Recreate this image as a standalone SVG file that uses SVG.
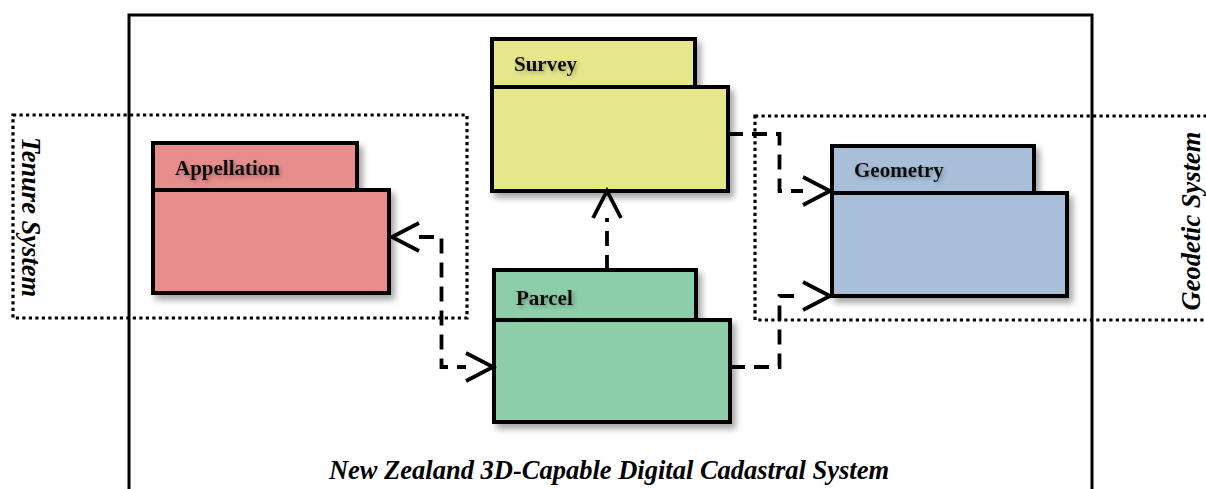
<svg xmlns="http://www.w3.org/2000/svg" width="1206" height="489" viewBox="0 0 1206 489">
  <defs>
    <filter id="shadow" x="-10%" y="-10%" width="130%" height="140%">
      <feGaussianBlur in="SourceAlpha" stdDeviation="3"/>
      <feOffset dx="4" dy="5" result="off"/>
      <feComponentTransfer><feFuncA type="linear" slope="0.35"/></feComponentTransfer>
      <feMerge><feMergeNode/><feMergeNode in="SourceGraphic"/></feMerge>
    </filter>
    <filter id="textsoft" x="-10%" y="-30%" width="130%" height="180%">
      <feGaussianBlur in="SourceAlpha" stdDeviation="2"/>
      <feOffset dx="2" dy="2"/>
      <feComponentTransfer><feFuncA type="linear" slope="0.3"/></feComponentTransfer>
      <feMerge><feMergeNode/><feMergeNode in="SourceGraphic"/></feMerge>
    </filter>
    <marker id="open" markerUnits="userSpaceOnUse" markerWidth="40" markerHeight="40" refX="0" refY="0" viewBox="-5 -20 40 40" orient="auto-start-reverse" overflow="visible">
      <path d="M0 -14 L27 0 L0 14" fill="none" stroke="#000" stroke-width="3.8" stroke-linejoin="miter"/>
    </marker>
    <style>
      .frame { fill: none; stroke: #000; stroke-width: 3; }
      .zone { fill: none; stroke: #000; stroke-width: 3.2; stroke-dasharray: 3.2 3.3; }
      .box { stroke: #000; stroke-width: 4; }
      .appellation { fill: #e78d8c; }
      .survey { fill: #e6e68a; }
      .geometry { fill: #a9bfd9; }
      .parcel { fill: #8ecdaa; }
      .label { font-family: "Liberation Serif", "Times New Roman", serif; font-weight: bold; font-size: 21px; fill: #111; }
      .title { font-family: "Liberation Serif", "Times New Roman", serif; font-weight: bold; font-style: italic; font-size: 26.5px; fill: #000; }
      .link { fill: none; stroke: #000; stroke-width: 3.8; stroke-dasharray: 15 9; }
    </style>
  </defs>

  <rect width="1206" height="489" fill="#fff"/>

  <!-- enclosing system frame -->
  <g id="cadastral-system">
    <rect class="frame" x="129" y="15" width="963" height="520"/>
    <text class="title" x="609" y="479" text-anchor="middle">New Zealand 3D-Capable Digital Cadastral System</text>
  </g>

  <!-- Tenure System zone -->
  <g id="tenure-system">
    <rect class="zone" x="13" y="115" width="454" height="203"/>
    <text class="title" transform="translate(21.5 217) rotate(90)" text-anchor="middle">Tenure System</text>
  </g>

  <!-- Geodetic System zone -->
  <g id="geodetic-system">
    <rect class="zone" x="755" y="116" width="470" height="204"/>
    <text class="title" transform="translate(1200 221) rotate(-90)" text-anchor="middle">Geodetic System</text>
  </g>

  <!-- packages -->
  <g id="appellation" filter="url(#shadow)">
    <rect class="box appellation" x="153" y="143" width="204" height="47"/>
    <rect class="box appellation" x="153" y="190" width="236" height="103"/>
    <text class="label" x="175" y="175" filter="url(#textsoft)">Appellation</text>
  </g>

  <g id="survey" filter="url(#shadow)">
    <rect class="box survey" x="492" y="39" width="203" height="48"/>
    <rect class="box survey" x="492" y="87" width="236" height="104"/>
    <text class="label" x="514" y="71" filter="url(#textsoft)">Survey</text>
  </g>

  <g id="geometry" filter="url(#shadow)">
    <rect class="box geometry" x="832" y="146" width="202" height="47"/>
    <rect class="box geometry" x="832" y="193" width="235" height="103"/>
    <text class="label" x="854" y="177" filter="url(#textsoft)">Geometry</text>
  </g>

  <g id="parcel" filter="url(#shadow)">
    <rect class="box parcel" x="494" y="270" width="202" height="50"/>
    <rect class="box parcel" x="494" y="320" width="236" height="102"/>
    <text class="label" x="516" y="305" filter="url(#textsoft)">Parcel</text>
  </g>

  <!-- dependencies -->
  <g id="connectors">
    <path class="link" d="M419 237 H441.5 V367 H466" marker-start="url(#open)" marker-end="url(#open)"/>
    <path class="link" d="M607 270 V218" marker-end="url(#open)"/>
    <path class="link" d="M728 134 H779.5 V191 H803" marker-end="url(#open)"/>
    <path class="link" d="M730 367 H779.5 V296 H803" marker-end="url(#open)"/>
  </g>
</svg>
